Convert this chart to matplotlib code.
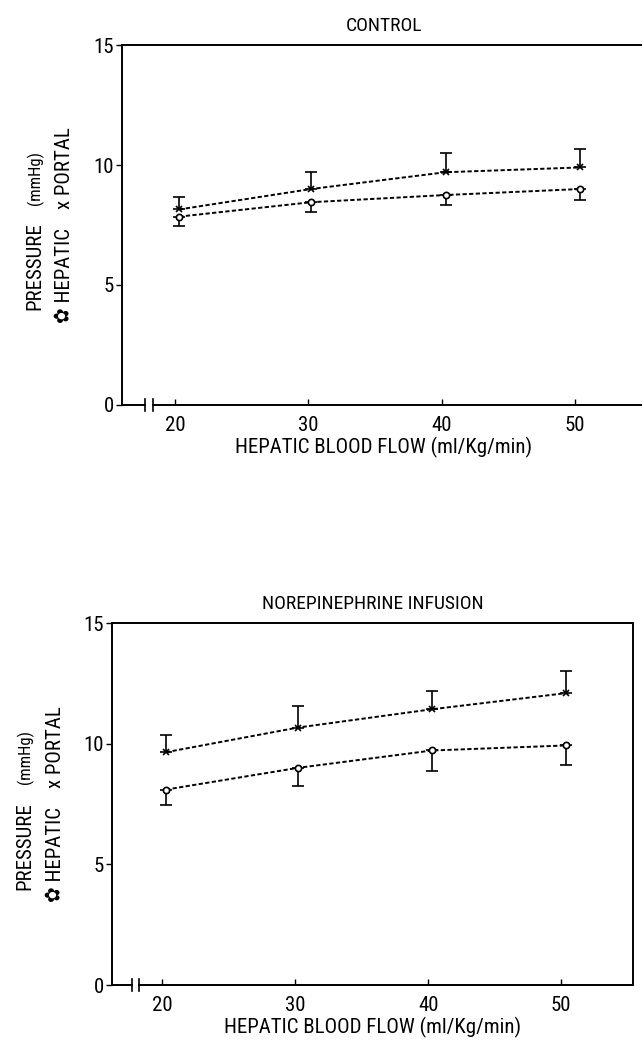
import numpy as np
import matplotlib
matplotlib.use("Agg")
import matplotlib.pyplot as plt
from matplotlib import font_manager as fm
import matplotlib.transforms as mtransforms

# flow levels (ml/Kg/min), points sit slightly right of the ticks
flow = [20.3, 30.2, 40.3, 50.4]
flow_ticks = [20, 30, 40, 50]
pressure_ticks = [0, 5, 10, 15]

# CONTROL
ctrl_portal = [8.15, 9.0, 9.7, 9.9]
ctrl_portal_err = [0.5, 0.7, 0.8, 0.75]
ctrl_hepatic = [7.85, 8.45, 8.75, 9.0]
ctrl_hepatic_err = [0.4, 0.4, 0.4, 0.45]

# NOREPINEPHRINE INFUSION
ne_portal = [9.65, 10.67, 11.43, 12.1]
ne_portal_err = [0.72, 0.88, 0.77, 0.9]
ne_hepatic = [8.1, 9.0, 9.72, 9.93]
ne_hepatic_err = [0.62, 0.74, 0.83, 0.83]

titles = ["CONTROL", "NOREPINEPHRINE INFUSION"]
xlabel = "HEPATIC BLOOD FLOW (ml/Kg/min)"

# narrow font if there is one
names = {f.name for f in fm.fontManager.ttflist}
family = "DejaVu Sans"
for cand in ["Liberation Sans Narrow", "Roboto Condensed", "Open Sans Condensed"]:
    if cand in names:
        family = cand
        break
plt.rcParams["font.family"] = [family, "DejaVu Sans"]
plt.rcParams["font.stretch"] = "condensed"
narrow = family != "DejaVu Sans"
fs_tick = 15 if narrow else 12
fs_lab = 15 if narrow else 12
fs_title = 14 if narrow else 11
fs_small = 12 if narrow else 10

fig = plt.figure(figsize=(6.42, 10.49), dpi=100)

panels = [
    ([0.19, 0.614, 0.815, 0.343], (16.0, 55.3), ctrl_portal, ctrl_portal_err,
     ctrl_hepatic, ctrl_hepatic_err),
    ([0.1745, 0.061, 0.8115, 0.345], (16.24, 55.4), ne_portal, ne_portal_err,
     ne_hepatic, ne_hepatic_err),
]

dash = (0, (2.2, 1.2))
for (pos, xl, portal, perr, hep, herr), title in zip(panels, titles):
    ax = fig.add_axes(pos)
    ax.set_xlim(*xl)
    ax.set_ylim(0, 15)
    ax.set_xticks(flow_ticks)
    ax.set_yticks(pressure_ticks)
    ax.tick_params(axis="x", direction="in", length=4, width=1, labelsize=fs_tick, pad=8)
    ax.tick_params(axis="y", direction="out", length=4, width=1, labelsize=fs_tick, pad=2)
    for s in ["top", "left", "right"]:
        ax.spines[s].set_linewidth(1.4)
    ax.spines["bottom"].set_visible(False)

    # broken x axis
    tr = mtransforms.blended_transform_factory(ax.transData, ax.transAxes)
    ax.plot([xl[0], 17.75], [0, 0], color="black", lw=1.4, transform=tr, clip_on=False)
    ax.plot([18.3, xl[1]], [0, 0], color="black", lw=1.4, transform=tr, clip_on=False)
    for xb in [17.75, 18.3]:
        ax.plot([xb, xb], [-0.017, 0.017], color="black", lw=1.2, transform=tr, clip_on=False)

    ax.errorbar(flow, portal, yerr=[np.zeros(len(perr)), perr], color="black",
                marker="x", ms=4.5, mew=1.2, ls=dash, lw=1.4, elinewidth=1.2,
                capsize=4.5, capthick=1.4)
    ax.errorbar(flow, hep, yerr=[herr, np.zeros(len(herr))], color="black",
                marker="o", ms=4.5, mew=1.2, mfc="white", ls=dash, lw=1.4,
                elinewidth=1.2, capsize=4.5, capthick=1.4)

    ax.set_title(title, fontsize=fs_title, pad=10)
    ax.set_xlabel(xlabel, fontsize=fs_lab, labelpad=1)

    # two-line y label
    off = mtransforms.offset_copy(ax.transAxes, fig=fig, x=-87, y=0, units="dots")
    ax.text(0, 0.385, "PRESSURE", rotation=90, ha="center", va="center",
            fontsize=fs_lab, transform=off)
    ax.text(0, 0.63, "(mmHg)", rotation=90, ha="center", va="center",
            fontsize=fs_small, transform=off)
    off2 = mtransforms.offset_copy(ax.transAxes, fig=fig, x=-57, y=0, units="dots")
    ax.text(0, 0.5, "\u273f HEPATIC    x PORTAL", rotation=90, ha="center",
            va="center", fontsize=fs_lab, transform=off2)

fig.savefig("out.png", dpi=100, facecolor="white")
